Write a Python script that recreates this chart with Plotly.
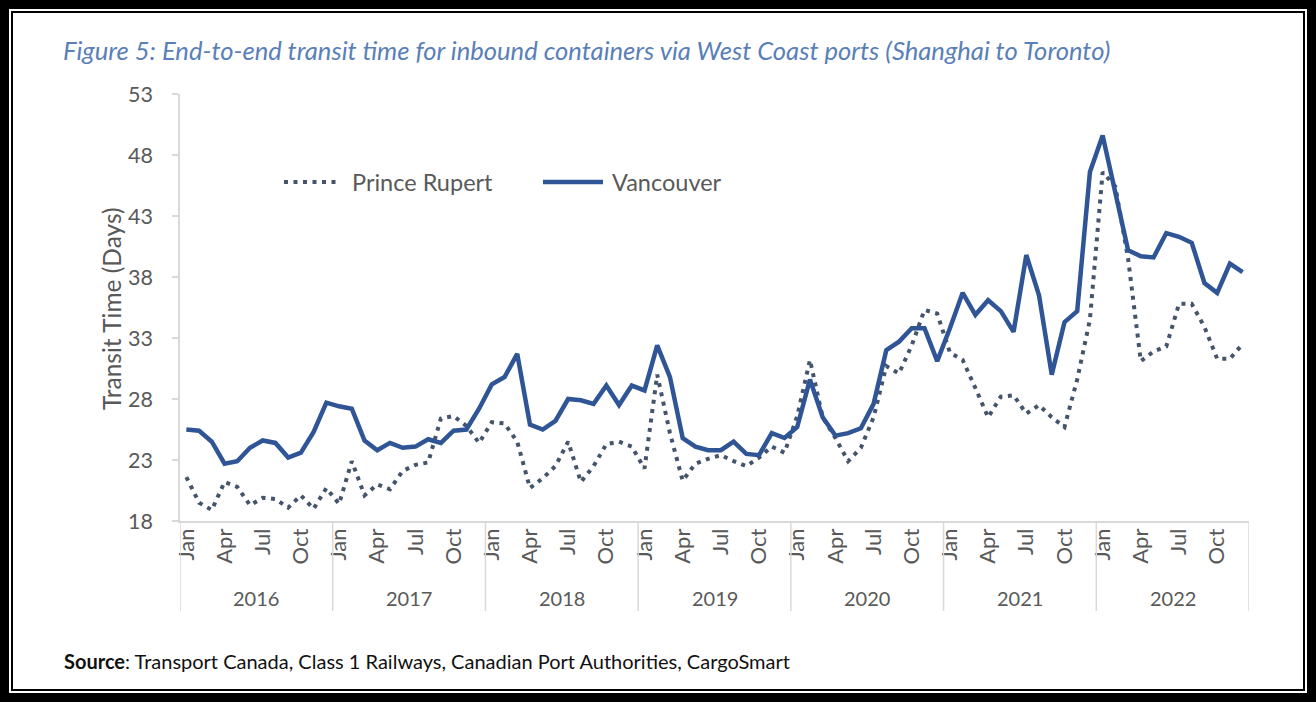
import plotly.graph_objects as go

years = ["2016", "2017", "2018", "2019", "2020", "2021", "2022"]
months = ["Jan", "Feb", "Mar", "Apr", "May", "Jun", "Jul", "Aug", "Sep", "Oct", "Nov", "Dec"]
month_ticks = ["Jan", "Apr", "Jul", "Oct"]

prince_rupert = [
    21.6, 19.5, 18.9, 21.2, 20.8, 19.3, 19.9, 19.8, 19.1, 20.1, 19.0, 20.7,
    19.4, 22.9, 20.1, 21.0, 20.6, 22.1, 22.6, 22.8, 26.4, 26.6, 25.8, 24.4,
    26.1, 26.0, 24.5, 20.7, 21.5, 22.5, 24.5, 21.2, 22.5, 24.3, 24.5, 24.1,
    22.3, 30.0, 25.2, 21.3, 22.7, 23.1, 23.4, 22.9, 22.5, 23.2, 24.1, 23.6,
    26.6, 31.2, 26.5, 24.8, 22.9, 24.0, 26.5, 30.7, 30.1, 32.4, 35.3, 35.0,
    31.8, 31.2, 28.9, 26.5, 28.2, 28.3, 26.8, 27.5, 26.5, 25.7, 29.6, 34.5,
    46.6, 45.4, 39.5, 31.1, 31.9, 32.3, 35.8, 35.8, 33.9, 31.3, 31.3, 32.5,
]
vancouver = [
    25.5, 25.4, 24.5, 22.7, 22.9, 24.0, 24.6, 24.4, 23.2, 23.6, 25.3, 27.7,
    27.4, 27.2, 24.6, 23.8, 24.4, 24.0, 24.1, 24.7, 24.4, 25.4, 25.5, 27.2,
    29.2, 29.8, 31.7, 25.9, 25.5, 26.2, 28.0, 27.9, 27.6, 29.1, 27.5, 29.1,
    28.7, 32.4, 29.8, 24.8, 24.1, 23.8, 23.8, 24.5, 23.5, 23.4, 25.2, 24.8,
    25.7, 29.6, 26.5, 25.0, 25.2, 25.6, 27.6, 32.0, 32.7, 33.8, 33.8, 31.1,
    33.8, 36.7, 34.9, 36.1, 35.2, 33.5, 39.8, 36.5, 30.0, 34.3, 35.2, 46.6,
    49.6, 44.9, 40.2, 39.7, 39.6, 41.6, 41.3, 40.8, 37.5, 36.7, 39.1, 38.4,
]

title_text = "Figure 5: End-to-end transit time for inbound containers via West Coast ports (Shanghai to Toronto)"
y_title = "Transit Time (Days)"
source_text = "<b>Source</b>: Transport Canada, Class 1 Railways, Canadian Port Authorities, CargoSmart"

W, H = 1316, 702
ML, MR, MT, MB = 180, 67, 94, 181
PW, PH = W - ML - MR, H - MT - MB


def px(x):
    return (x - ML) / PW


def py(y):
    return (H - MB - y) / PH


n = len(years) * len(months)
xs = list(range(n))
tickvals = [i for i in xs if months[i % 12] in month_ticks]
ticktext = [months[i % 12] for i in tickvals]

FONT = "Lato"
GRAY = "#595959"
AX = "#d9d9d9"
C_V = "#2F5597"
C_P = "#44546A"

fig = go.Figure()
fig.add_trace(go.Scatter(x=xs, y=prince_rupert, mode="lines", name="Prince Rupert",
                         line=dict(color=C_P, width=4, dash="4px,5.5px"), showlegend=False))
fig.add_trace(go.Scatter(x=xs, y=vancouver, mode="lines", name="Vancouver",
                         line=dict(color=C_V, width=4.5), showlegend=False))

shapes = []
annotations = []

# year separators and labels
for k, yr in enumerate(years + [None]):
    shapes.append(dict(type="line", xref="x", yref="paper", x0=12 * k - 0.5, x1=12 * k - 0.5,
                       y0=0, y1=py(611), line=dict(color=AX, width=1.5)))
    if yr:
        annotations.append(dict(xref="x", yref="paper", x=12 * k + 5.5, y=py(598), text=yr,
                                showarrow=False, xanchor="center", yanchor="middle",
                                font=dict(family=FONT, size=20, color=GRAY)))

# manual legend
shapes.append(dict(type="line", xref="paper", yref="paper", x0=px(284), x1=px(340), y0=py(182), y1=py(182),
                   line=dict(color=C_P, width=4, dash="4px,5.5px")))
shapes.append(dict(type="line", xref="paper", yref="paper", x0=px(543), x1=px(603), y0=py(182), y1=py(182),
                   line=dict(color=C_V, width=4.5)))
annotations.append(dict(xref="paper", yref="paper", x=px(350), y=py(182), text="Prince Rupert",
                        showarrow=False, xanchor="left", yanchor="middle",
                        font=dict(family=FONT, size=23.5, color=GRAY)))
annotations.append(dict(xref="paper", yref="paper", x=px(610), y=py(182), text="Vancouver",
                        showarrow=False, xanchor="left", yanchor="middle",
                        font=dict(family=FONT, size=23.5, color=GRAY)))

# title, axis title, source
annotations.append(dict(xref="paper", yref="paper", x=px(61), y=py(50), text=title_text,
                        showarrow=False, xanchor="left", yanchor="middle",
                        font=dict(family=FONT, size=25.6, color="#5A7FB8", style="italic")))
annotations.append(dict(xref="paper", yref="paper", x=px(111), y=py(309), text=y_title, textangle=-90,
                        showarrow=False, xanchor="center", yanchor="middle",
                        font=dict(family=FONT, size=24.5, color=GRAY)))
annotations.append(dict(xref="paper", yref="paper", x=px(62), y=py(661), text=source_text,
                        showarrow=False, xanchor="left", yanchor="middle",
                        font=dict(family=FONT, size=20, color="#111111")))

# frame
shapes.append(dict(type="rect", xref="paper", yref="paper", x0=px(4.5), x1=px(W - 4.5), y0=py(H - 4.5), y1=py(4.5),
                   line=dict(color="black", width=9), layer="above"))
shapes.append(dict(type="rect", xref="paper", yref="paper", x0=px(12), x1=px(W - 12), y0=py(H - 12), y1=py(12),
                   line=dict(color="black", width=2), layer="above"))

fig.update_layout(
    width=W, height=H,
    margin=dict(l=ML, r=MR, t=MT, b=MB),
    paper_bgcolor="white", plot_bgcolor="white",
    showlegend=False,
    shapes=shapes, annotations=annotations,
    xaxis=dict(range=[-0.5, n - 0.5], tickmode="array", tickvals=tickvals, ticktext=ticktext,
               tickangle=-90, showgrid=False, zeroline=False, showline=True, linecolor=AX, linewidth=1.5,
               ticks="", ticklabelstandoff=-3, tickfont=dict(family=FONT, size=22, color=GRAY)),
    yaxis=dict(range=[18, 53], tick0=18, dtick=5, showgrid=False, zeroline=False, showline=True,
               linecolor=AX, linewidth=1.5, ticks="outside", ticklen=6, tickcolor=AX, tickwidth=1.5,
               ticklabelstandoff=15, tickfont=dict(family=FONT, size=21.5, color=GRAY)),
)

fig.write_html("out.html", config={"displayModeBar": False},
               post_script="document.body.style.margin='0';document.body.style.overflow='hidden';")
